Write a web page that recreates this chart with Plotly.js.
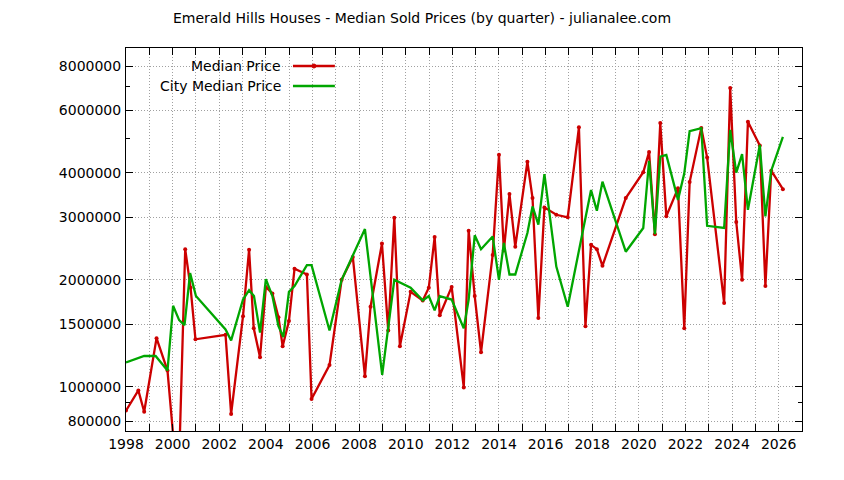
<!DOCTYPE html>
<html>
<head>
<meta charset="utf-8">
<script src="https://cdn.plot.ly/plotly-3.0.1.min.js"></script>
<style>
  html, body { margin: 0; padding: 0; background: #fff; }
  #chart { width: 844px; height: 480px; }
</style>
</head>
<body>
<div id="chart"></div>
<script>
// quarter positions (decimal years) and prices
const medianYears = [
  1998.00, 1998.53, 1998.78, 1999.31, 1999.78, 2000.24, 2000.54, 2000.77, 2000.98,
  2002.27, 2002.51, 2003.02, 2003.28, 2003.48, 2003.75, 2004.00, 2004.28, 2004.54,
  2004.72, 2004.99, 2005.23, 2005.76, 2005.96, 2006.73, 2007.25, 2007.73, 2008.25,
  2008.49, 2008.98, 2009.25, 2009.51, 2009.75, 2010.21, 2010.73, 2010.99, 2011.24,
  2011.46, 2011.97, 2012.49, 2012.70, 2012.96, 2013.23, 2013.73, 2014.00, 2014.21,
  2014.45, 2014.70, 2015.22, 2015.44, 2015.69, 2015.95, 2016.46, 2016.95, 2017.43,
  2017.71, 2017.95, 2018.20, 2018.44, 2019.44, 2020.19, 2020.44, 2020.69, 2020.92,
  2021.18, 2021.68, 2021.95, 2022.18, 2022.68, 2022.93, 2023.66, 2023.92, 2024.18,
  2024.43, 2024.68, 2025.19, 2025.43, 2025.68, 2026.18
];
const medianPrices = [
  856000, 976000, 850000, 1370000, 1110000, 500000, 2440000, 1900000, 1360000,
  1400000, 838000, 1580000, 2430000, 1460000, 1210000, 1910000, 1830000, 1570000,
  1300000, 1530000, 2150000, 2070000, 923000, 1150000, 2000000, 2320000, 1070000,
  1680000, 2530000, 1440000, 2990000, 1300000, 1850000, 1750000, 1900000, 2640000,
  1590000, 1910000, 995000, 2750000, 1800000, 1250000, 2350000, 4500000, 2420000,
  3490000, 2480000, 4300000, 3400000, 1560000, 3200000, 3050000, 3000000, 5380000,
  1480000, 2510000, 2440000, 2190000, 3400000, 4020000, 4580000, 2690000, 5530000,
  3020000, 3620000, 1460000, 3770000, 5360000, 4420000, 1720000, 6940000, 2910000,
  2000000, 5580000, 4780000, 1920000, 4060000, 3600000
];

const cityYears = [
  1998.00, 1998.53, 1998.78, 1999.27, 1999.78, 2000.02, 2000.28, 2000.51, 2000.75,
  2001.00, 2002.27, 2002.51, 2003.02, 2003.28, 2003.49, 2003.75, 2004.00, 2004.28,
  2004.54, 2004.75, 2004.99, 2005.23, 2005.76, 2005.96, 2006.73, 2007.25, 2007.73,
  2008.25, 2008.99, 2009.51, 2010.21, 2010.73, 2010.99, 2011.24, 2011.46, 2011.97,
  2012.49, 2012.70, 2012.96, 2013.23, 2013.73, 2014.00, 2014.21, 2014.45, 2014.70,
  2015.22, 2015.44, 2015.69, 2015.95, 2016.46, 2016.95, 2017.95, 2018.20, 2018.44,
  2019.44, 2020.19, 2020.44, 2020.69, 2020.92, 2021.18, 2021.68, 2021.95, 2022.18,
  2022.68, 2022.93, 2023.66, 2023.92, 2024.18, 2024.43, 2024.68, 2025.19, 2025.43,
  2025.68, 2026.18
];
const cityPrices = [
  1170000, 1200000, 1220000, 1220000, 1110000, 1690000, 1540000, 1490000, 2090000,
  1800000, 1450000, 1350000, 1760000, 1870000, 1800000, 1420000, 2010000, 1800000,
  1480000, 1380000, 1850000, 1920000, 2200000, 2200000, 1440000, 2000000, 2330000,
  2780000, 1080000, 2000000, 1900000, 1750000, 1800000, 1640000, 1800000, 1760000,
  1460000, 1760000, 2670000, 2440000, 2650000, 2000000, 2540000, 2070000, 2070000,
  2710000, 3220000, 2860000, 3970000, 2180000, 1680000, 3580000, 3130000, 3780000,
  2400000, 2800000, 4330000, 2690000, 4450000, 4500000, 3360000, 3990000, 5250000,
  5350000, 2840000, 2800000, 5290000, 4010000, 4520000, 3150000, 4800000, 3020000,
  4060000, 5060000
];

const yTicks = [800000, 1000000, 1500000, 2000000, 3000000, 4000000, 6000000, 8000000];
const yMinorTicks = [900000, 5000000, 7000000];

const RED = '#cc0000';
const GREEN = '#00a600';
const GRID = '#a0a0a0';
const FONT = 'DejaVu Sans, Verdana, sans-serif';
const FS = 14;

const traces = [
  {
    x: medianYears,
    y: medianPrices,
    name: 'Median Price',
    type: 'scatter',
    mode: 'lines+markers',
    line: { color: RED, width: 2.3 },
    marker: { color: RED, size: 4, symbol: 'circle' },
    cliponaxis: true,
  },
  {
    x: cityYears,
    y: cityPrices,
    name: 'City Median Price',
    type: 'scatter',
    mode: 'lines',
    line: { color: GREEN, width: 2.3 },
  },
];

// gnuplot-style key: text on the left, sample on the right
const keyX = 0.2322, keyX0 = 0.247, keyX1 = 0.309, keyY1 = 0.953, keyY2 = 0.9008;

const layout = {
  width: 844,
  height: 480,
  paper_bgcolor: '#fff',
  plot_bgcolor: '#fff',
  font: { family: FONT, size: FS, color: '#000' },
  margin: { l: 126, r: 42, t: 48, b: 49 },
  showlegend: false,
  title: {
    text: 'Emerald Hills Houses - Median Sold Prices (by quarter) - julianalee.com',
    font: { family: FONT, size: FS, color: '#000' },
    xref: 'container', x: 0.5, xanchor: 'center',
    yref: 'container', y: 1 - 18 / 480, yanchor: 'middle',
  },
  xaxis: {
    range: [1998, 2027],
    tickmode: 'linear', tick0: 1998, dtick: 2,
    ticks: 'inside', ticklen: 7, tickcolor: '#000',
    showline: true, linecolor: '#000', linewidth: 1, mirror: 'ticks',
    showgrid: true, gridcolor: GRID, griddash: '1px,2px', gridwidth: 1,
    zeroline: false,
    tickfont: { family: FONT, size: FS, color: '#000' },
    minor: {
      tick0: 1998, dtick: 1, ticks: 'inside', ticklen: 7, tickcolor: '#000',
      showgrid: true, gridcolor: GRID, griddash: '1px,2px', gridwidth: 1,
    },
  },
  yaxis: {
    type: 'log',
    range: [Math.log10(750000), Math.log10(9000000)],
    tickmode: 'array', tickvals: yTicks, ticktext: yTicks.map(String),
    ticks: 'inside', ticklen: 7, tickcolor: '#000',
    showline: true, linecolor: '#000', linewidth: 1, mirror: 'ticks',
    showgrid: true, gridcolor: GRID, griddash: '1px,2px', gridwidth: 1,
    zeroline: false,
    ticklabelstandoff: 1,
    tickfont: { family: FONT, size: FS, color: '#000' },
    minor: {
      tickmode: 'array', tickvals: yMinorTicks,
      ticks: 'inside', ticklen: 4, tickcolor: '#000', showgrid: false,
    },
  },
  annotations: [
    { text: 'Median Price', xref: 'paper', yref: 'paper', x: keyX, y: keyY1,
      xanchor: 'right', yanchor: 'middle', showarrow: false,
      font: { family: FONT, size: FS, color: '#000' } },
    { text: 'City Median Price', xref: 'paper', yref: 'paper', x: keyX, y: keyY2,
      xanchor: 'right', yanchor: 'middle', showarrow: false,
      font: { family: FONT, size: FS, color: '#000' } },
  ],
  shapes: [
    { type: 'line', xref: 'paper', yref: 'paper', x0: keyX0, x1: keyX1, y0: keyY1, y1: keyY1,
      line: { color: RED, width: 2.3 } },
    { type: 'circle', xref: 'paper', yref: 'paper', xsizemode: 'pixel', ysizemode: 'pixel',
      xanchor: (keyX0 + keyX1) / 2, yanchor: keyY1, x0: -2, x1: 2, y0: -2, y1: 2,
      fillcolor: RED, line: { color: RED, width: 1 } },
    { type: 'line', xref: 'paper', yref: 'paper', x0: keyX0, x1: keyX1, y0: keyY2, y1: keyY2,
      line: { color: GREEN, width: 2.3 } },
  ],
};

Plotly.newPlot('chart', traces, layout, { displayModeBar: false, staticPlot: true });
</script>
</body>
</html>
